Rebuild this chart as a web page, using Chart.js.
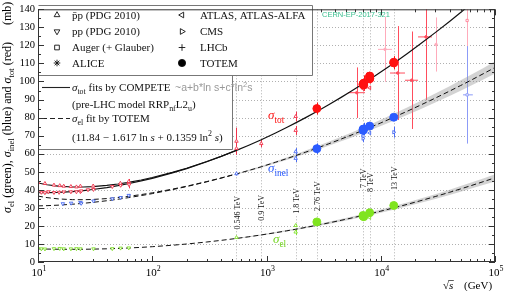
<!DOCTYPE html>
<html lang="en">
<head>
<meta charset="UTF-8" />
<script src="https://cdn.jsdelivr.net/npm/chart.js"></script>
<title>pp cross sections</title>
<style>
  html, body { margin: 0; padding: 0; background: #fff; }
  #box { width: 509px; height: 291px; }
</style>
</head>
<body>
<div id="box"><canvas id="grafico"></canvas></div>
<script>
// ---- fit curves (sqrt(s) in GeV, cross sections in mb) ----
const fitE = [10, 12, 15, 20, 25, 30, 40, 50, 60, 80, 100, 150, 200, 300, 400, 546, 700, 900, 1200, 1500,
  1800, 2200, 2760, 3500, 4500, 5500, 7000, 8000, 10000, 13000, 17000, 22000, 30000, 40000, 50000, 60000, 80000, 100000];
const fitTotPP = [38.37, 38.38, 38.56, 39.03, 39.58, 40.15, 41.25, 42.27, 43.22, 44.90, 46.36, 49.36, 51.76, 55.51, 58.43, 61.82, 64.70, 67.75, 71.50, 74.52,
  77.08, 79.99, 83.41, 87.12, 91.20, 94.58, 98.77, 101.15, 105.22, 110.17, 115.40, 120.60, 127.07, 133.28, 138.25, 142.39, 149.10, 154.44];
const fitTotPbarP = [43.79, 42.83, 42.04, 41.57, 41.57, 41.78, 42.44, 43.21, 43.98, 45.46, 46.80, 49.64, 51.97, 55.64, 58.52, 61.88];
const fitInelPP = [31.09, 31.22, 31.49, 32.00, 32.52, 33.02, 33.94, 34.76, 35.51, 36.79, 37.88, 40.08, 41.79, 44.43, 46.45, 48.77, 50.72, 52.75, 55.26, 57.26,
  58.94, 60.84, 63.07, 65.47, 68.10, 70.27, 72.95, 74.47, 77.05, 80.19, 83.48, 86.75, 90.80, 94.67, 97.76, 100.33, 104.48, 107.78];
const fitInelPbarP = [36.51, 35.67, 34.97, 34.54, 34.51, 34.65, 35.13, 35.70, 36.27, 37.35, 38.32, 40.36, 42.00, 44.56, 46.54, 48.83];
const fitEl = [7.28, 7.16, 7.07, 7.03, 7.06, 7.13, 7.31, 7.51, 7.71, 8.11, 8.48, 9.28, 9.97, 11.08, 11.98, 13.05, 13.98, 15.00, 16.24, 17.26,
  18.14, 19.15, 20.34, 21.65, 23.10, 24.31, 25.82, 26.68, 28.17, 29.98, 31.92, 33.85, 36.27, 38.61, 40.49, 42.06, 44.62, 46.66];
// half width of the grey uncertainty bands (last entries of fitE)
const bandInelHalf = [0.3, 0.4, 0.5, 0.6, 0.7, 0.8, 0.9, 1.0, 1.1, 1.25, 1.4, 1.5, 1.6, 1.75, 1.9, 2.1, 2.3, 2.5, 2.7, 2.9, 3.0, 3.2, 3.4];
const bandElHalf = [0.2, 0.25, 0.3, 0.35, 0.4, 0.45, 0.5, 0.55, 0.6, 0.7, 0.75, 0.8, 0.85, 0.9, 1.0, 1.1, 1.2, 1.3, 1.45, 1.55, 1.65, 1.8, 2.0];

// ---- measurements: [sqrt(s), sigma, error, (sqrt(s) low, sqrt(s) high)] ----
const pbarpTot = [[10.0, 44.0, 0.6], [11.5, 43.5, 0.6], [13.8, 42.6, 0.6], [15.5, 42.3, 0.5], [16.8, 42.0, 0.5], [19.4, 41.8, 0.5], [21.7, 41.6, 0.5],
  [23.5, 42.0, 0.7], [30.4, 42.1, 0.8], [52.6, 43.6, 0.9], [62.3, 44.6, 1.4], [546, 66.9, 7.5], [546, 62.9, 1.5], [900, 65.6, 2.0], [1800, 80.6, 2.7], [1800, 72.9, 2.5]];
const ppTot = [[10.7, 38.6, 0.5], [11.5, 38.4, 0.5], [12.3, 38.9, 0.5], [13.8, 38.5, 0.4], [15.3, 38.6, 0.4], [16.8, 38.8, 0.4], [19.4, 38.9, 0.4], [21.7, 38.9, 0.4],
  [23.5, 39.0, 0.4], [23.9, 39.4, 0.4], [27.4, 40.0, 0.6], [30.6, 40.2, 0.5], [44.7, 41.8, 0.6], [52.8, 42.5, 0.6], [62.3, 43.2, 0.8], [62.7, 42.8, 2.0]];
const ppInel = [[16.5, 32.3, 0.4], [19.5, 32.6, 0.4], [23.5, 33.0, 0.5], [23.9, 32.5, 0.5], [30.6, 33.8, 0.6], [44.7, 35.0, 0.6], [52.8, 35.7, 0.6], [62.3, 36.9, 0.8]];
const pbarpInel = [[546, 48.9, 1.0], [1800, 61.1, 2.0], [1800, 57.4, 2.0]];
const ppEl = [[10.0, 7.4, 0.3], [10.7, 7.3, 0.3], [11.5, 7.2, 0.3], [13.8, 7.4, 0.2], [15.5, 7.5, 0.2], [16.8, 7.3, 0.2], [19.4, 7.3, 0.2],
  [21.7, 7.4, 0.2], [23.5, 7.3, 0.2], [30.6, 7.3, 0.2], [44.7, 7.4, 0.3], [52.8, 7.7, 0.3], [62.3, 7.8, 0.3]];
const pbarpEl = [[546, 13.6, 0.6], [1800, 20.2, 0.9], [1800, 16.6, 1.6]];

const totemTot = [[2760, 85.0, 3.3], [7000, 98.3, 2.8], [7000, 98.6, 2.2], [7100, 99.1, 4.3], [7100, 98.0, 2.5], [8000, 101.7, 2.9],
  [8000, 101.5, 2.1], [8000, 102.9, 2.3], [8000, 103.0, 2.3], [13000, 110.6, 3.4], [13000, 110.3, 3.5]];
const totemInel = [[2760, 62.8, 2.9], [7000, 73.5, 1.6], [7100, 73.7, 3.4], [7000, 72.9, 1.5], [8000, 75.3, 1.7], [13000, 80.2, 1.8]];
const totemEl = [[2760, 22.2, 1.4], [7000, 25.4, 1.1], [7100, 25.1, 1.2], [7000, 25.8, 1.1], [8000, 27.3, 1.4], [13000, 31.3, 1.7]];

const atlasTot = [[7000, 96.0, 1.4], [8000, 96.5, 0.9]];
const atlasInel = [[7000, 69.8, 2.4], [8000, 71.5, 1.0]];
const atlasEl = [[8000, 24.6, 0.4]];
const cmsInel = [[7000, 68.4, 2.0], [13000, 71.9, 3.0]];
const aliceInel = [[7000, 73.2, 3.0]];

const cosmicTotRed = [[6170, 93.8, 14, 5160, 7280], [14060, 104.7, 26, 12050, 16300], [18660, 100.7, 27, 16300, 21200], [24900, 124.7, 35, 21200, 28100]];
const cosmicTotPink = [[10900, 117.8, 18, 9460, 12560], [30500, 120.5, 15]];
const augerTot = [[57000, 133.8, 40]];
const augerInel = [[57000, 92.6, 27, 52500, 64000]];

const energyMarks = [546, 900, 1800, 2760, 7000, 8000, 13000];
const energyNames = ['0.546 TeV', '0.9 TeV', '1.8 TeV', '2.76 TeV', '7 TeV', '8 TeV', '13 TeV'];

// ---- helpers ----
const SERIF = '"Liberation Serif", "DejaVu Serif", serif';
const SANS = '"Liberation Sans", Arial, sans-serif';
const RED = '#f2344c', PINK = '#ffabbb', CRRED = '#ff4d5d', BLUE = '#4b6cf2', LBLUE = '#8c9bf7', GREEN = '#82e02e';
const TRED = '#ff1111', TBLUE = '#2b5bff', TGREEN = '#80e41f';

const pts = a => a.map(([x, y, e, xl, xh]) => ({ x, y, e, xl, xh }));
const curve = (xs, ys) => ys.map((v, i) => ({ x: xs[i], y: v }));
const band = (ys, half, sign) => {
  const off = fitE.length - half.length;
  return half.map((h, i) => ({ x: fitE[off + i], y: ys[off + i] + sign * h }));
};

function pointSet(data, opt) {
  return Object.assign({
    type: 'scatter', data: pts(data), pointRadius: 2, pointBorderWidth: 0.9,
    pointHoverRadius: 0, backgroundColor: '#fff', order: 1
  }, opt);
}
function lineSet(data, opt) {
  return Object.assign({
    type: 'line', data, pointRadius: 0, borderColor: '#111', borderWidth: 1,
    fill: false, tension: 0, order: 2
  }, opt);
}

const datasets = [
  // TOTEM on top
  pointSet(totemTot, { pointStyle: 'circle', pointRadius: 4, backgroundColor: TRED, borderColor: TRED, errColor: TRED, order: 0 }),
  pointSet(totemInel, { pointStyle: 'circle', pointRadius: 4, backgroundColor: TBLUE, borderColor: TBLUE, errColor: TBLUE, order: 0 }),
  pointSet(totemEl, { pointStyle: 'circle', pointRadius: 4, backgroundColor: TGREEN, borderColor: TGREEN, errColor: TGREEN, order: 0 }),
  // other LHC experiments
  pointSet(atlasTot, { pointStyle: 'triangle', pointRotation: -90, borderColor: RED, errColor: RED }),
  pointSet(atlasInel, { pointStyle: 'triangle', pointRotation: -90, borderColor: BLUE, errColor: BLUE }),
  pointSet(atlasEl, { pointStyle: 'triangle', pointRotation: -90, borderColor: GREEN, errColor: GREEN }),
  pointSet(cmsInel, { pointStyle: 'triangle', pointRotation: 90, borderColor: BLUE, errColor: BLUE }),
  pointSet(aliceInel, { pointStyle: 'star', pointRadius: 2.5, borderColor: BLUE, errColor: BLUE }),
  // PDG
  pointSet(pbarpTot, { pointStyle: 'triangle', borderColor: RED, errColor: RED }),
  pointSet(ppTot, { pointStyle: 'triangle', pointRotation: 180, borderColor: RED, errColor: RED }),
  pointSet(ppInel, { pointStyle: 'triangle', pointRotation: 180, borderColor: BLUE, errColor: BLUE }),
  pointSet(pbarpInel, { pointStyle: 'triangle', borderColor: BLUE, errColor: BLUE }),
  pointSet(ppEl, { pointStyle: 'triangle', pointRotation: 180, borderColor: GREEN, errColor: GREEN }),
  pointSet(pbarpEl, { pointStyle: 'triangle', borderColor: GREEN, errColor: GREEN }),
  // cosmic rays / Auger
  pointSet(cosmicTotRed, { pointStyle: 'circle', pointRadius: 1.3, borderColor: CRRED, backgroundColor: CRRED, errColor: CRRED }),
  pointSet(cosmicTotPink, { pointStyle: 'circle', pointRadius: 1.3, borderColor: PINK, backgroundColor: PINK, errColor: PINK }),
  pointSet(augerTot, { pointStyle: 'rect', pointRadius: 1.6, borderColor: '#ff7f95', errColor: PINK }),
  pointSet(augerInel, { pointStyle: 'rect', pointRadius: 1.6, borderColor: LBLUE, errColor: LBLUE }),
  // curves
  lineSet(curve(fitE, fitTotPP), { borderWidth: 1.2 }),
  lineSet(curve(fitE, fitTotPbarP), { borderWidth: 1.1 }),
  lineSet(curve(fitE, fitInelPP), { borderDash: [5, 3] }),
  lineSet(curve(fitE, fitInelPbarP), { borderDash: [5, 3] }),
  lineSet(curve(fitE, fitEl), { borderDash: [5, 3] }),
  // grey bands
  lineSet(band(fitInelPP, bandInelHalf, 1), { borderWidth: 0, fill: '+1', backgroundColor: 'rgba(150,150,150,0.42)', order: 3 }),
  lineSet(band(fitInelPP, bandInelHalf, -1), { borderWidth: 0, order: 3 }),
  lineSet(band(fitEl, bandElHalf, 1), { borderWidth: 0, fill: '+1', backgroundColor: 'rgba(150,150,150,0.42)', order: 3 }),
  lineSet(band(fitEl, bandElHalf, -1), { borderWidth: 0, order: 3 })
];

// text with italic / sub / sup pieces, baseline at y
function rich(ctx, parts, x, y, size) {
  for (const [t, k] of parts) {
    let fs = size, dy = 0, st = '';
    if (k === 'sub') { fs = size * 0.72; dy = size * 0.28; }
    if (k === 'sup') { fs = size * 0.72; dy = -size * 0.42; }
    if (k === 'i') st = 'italic ';
    ctx.font = st + fs + 'px ' + SERIF;
    ctx.fillText(t, x, y + dy);
    x += ctx.measureText(t).width;
  }
  return x;
}
function richWidth(ctx, parts, size) {
  let w = 0;
  for (const [t, k] of parts) {
    const fs = (k === 'sub' || k === 'sup') ? size * 0.72 : size;
    ctx.font = (k === 'i' ? 'italic ' : '') + fs + 'px ' + SERIF;
    w += ctx.measureText(t).width;
  }
  return w;
}
function mark(ctx, style, rot, x, y, r) {
  if (Chart.helpers && Chart.helpers.drawPoint) {
    Chart.helpers.drawPoint(ctx, { pointStyle: style, rotation: rot, radius: r, borderWidth: 0.9 }, x, y);
  } else {
    ctx.beginPath(); ctx.arc(x, y, r, 0, 2 * Math.PI); ctx.fill(); ctx.stroke();
  }
}

// grid, energy lines and legend boxes: under the data
const decor = {
  id: 'decor',
  beforeDatasetsDraw(chart) {
    const { ctx, chartArea: a, scales: { x, y } } = chart;
    ctx.save();
    ctx.strokeStyle = '#9c9c9c'; ctx.lineWidth = 0.8; ctx.setLineDash([1, 2]);
    for (let v = 10; v < 140; v += 10) {
      const py = Math.round(y.getPixelForValue(v)) + 0.5;
      ctx.beginPath(); ctx.moveTo(a.left, py); ctx.lineTo(a.right, py); ctx.stroke();
    }
    for (const e of energyMarks) {
      const px = Math.round(x.getPixelForValue(e)) + 0.5;
      ctx.beginPath(); ctx.moveTo(px, a.top); ctx.lineTo(px, a.bottom); ctx.stroke();
    }
    ctx.setLineDash([]);

    // rotated energy labels
    const labelMb = [27.3, 30, 33.8, 36.5, 46.4, 44.2, 46.4];
    ctx.font = '8px ' + SERIF; ctx.textAlign = 'center'; ctx.textBaseline = 'middle';
    energyNames.forEach((t, i) => {
      const px = x.getPixelForValue(energyMarks[i]), py = y.getPixelForValue(labelMb[i]);
      ctx.save(); ctx.translate(px + 0.5, py); ctx.rotate(-Math.PI / 2);
      const w = ctx.measureText(t).width;
      ctx.fillStyle = '#fff'; ctx.fillRect(-w / 2 - 1, -3.5, w + 2, 7);
      ctx.fillStyle = '#111'; ctx.fillText(t, 0, 0.5);
      ctx.restore();
    });

    // legend boxes
    ctx.fillStyle = '#fff';
    ctx.fillRect(38, 5, 274, 70); ctx.fillRect(38, 75, 194, 74);
    ctx.strokeStyle = '#777'; ctx.lineWidth = 1;
    ctx.beginPath();
    ctx.moveTo(38.5, 5.5); ctx.lineTo(312.5, 5.5); ctx.lineTo(312.5, 75.5); ctx.lineTo(38.5, 75.5);
    ctx.moveTo(232.5, 75.5); ctx.lineTo(232.5, 149.5); ctx.lineTo(38.5, 149.5);
    ctx.stroke();

    ctx.textAlign = 'left'; ctx.textBaseline = 'alphabetic';
    const rows = [15, 31.5, 47.5, 63];
    const col1 = [['triangle', 0, 'p\u0304p (PDG 2010)'], ['triangle', 180, 'pp (PDG 2010)'], ['rect', 0, 'Auger (+ Glauber)'], ['star', 0, 'ALICE']];
    const col2 = [['triangle', -90, 'ATLAS, ATLAS-ALFA'], ['triangle', 90, 'CMS'], ['crossRot', 45, 'LHCb'], ['circle', 0, 'TOTEM']];
    ctx.strokeStyle = '#111'; ctx.lineWidth = 0.9;
    rows.forEach((ry, i) => {
      ctx.fillStyle = '#fff';
      mark(ctx, col1[i][0], col1[i][1], 57, ry, 3.3);
      ctx.fillStyle = i === 3 ? '#000' : '#fff';
      mark(ctx, col2[i][0], col2[i][1], 182, ry, i === 3 ? 3.6 : 3.3);
      ctx.fillStyle = '#111';
      ctx.font = '11px ' + SERIF;
      ctx.fillText(col1[i][2], 72, ry + 3.8);
      ctx.fillText(col2[i][2], 200, ry + 3.8);
    });

    // fit legend
    ctx.strokeStyle = '#222'; ctx.lineWidth = 1.1;
    ctx.beginPath(); ctx.moveTo(42, 87.5); ctx.lineTo(70, 87.5); ctx.stroke();
    ctx.setLineDash([5, 3]); ctx.lineWidth = 1;
    ctx.beginPath(); ctx.moveTo(42, 118.5); ctx.lineTo(70, 118.5); ctx.stroke();
    ctx.setLineDash([]);
    ctx.fillStyle = '#111';
    rich(ctx, [['\u03c3', 'i'], ['tot', 'sub'], [' fits by COMPETE', '']], 72, 91, 11);
    rich(ctx, [['(pre-LHC model RRP', ''], ['nf', 'sub'], ['L2', ''], ['u', 'sub'], [')', '']], 72, 107.5, 11);
    rich(ctx, [['\u03c3', 'i'], ['el', 'sub'], [' fit by TOTEM', '']], 72, 122, 11);
    rich(ctx, [['(11.84 \u2212 1.617 ln ', ''], ['s', 'i'], [' + 0.1359 ln', ''], ['2', 'sup'], [' ', ''], ['s', 'i'], [')', '']], 72, 140.5, 11);
    ctx.restore();
  }
};

// error bars, also under the markers
const errorBars = {
  id: 'errorBars',
  beforeDatasetsDraw(chart) {
    const { ctx, chartArea: a, scales: { x, y } } = chart;
    ctx.save();
    ctx.beginPath(); ctx.rect(a.left, a.top, a.right - a.left, a.bottom - a.top); ctx.clip();
    ctx.lineWidth = 1;
    chart.data.datasets.forEach(ds => {
      if (!ds.errColor) return;
      ctx.strokeStyle = ds.errColor;
      ds.data.forEach(p => {
        const px = Math.round(x.getPixelForValue(p.x)) + 0.5, py = y.getPixelForValue(p.y);
        ctx.beginPath();
        if (p.e) { ctx.moveTo(px, y.getPixelForValue(p.y - p.e)); ctx.lineTo(px, y.getPixelForValue(p.y + p.e)); }
        if (p.xl) { ctx.moveTo(x.getPixelForValue(p.xl), py); ctx.lineTo(x.getPixelForValue(p.xh), py); }
        ctx.stroke();
      });
    });
    ctx.restore();
  }
};

// frame, ticks, axis labels and free texts
const overlay = {
  id: 'overlay',
  afterDraw(chart) {
    const { ctx, chartArea: a, scales: { x, y } } = chart;
    ctx.save();
    ctx.strokeStyle = '#333'; ctx.lineWidth = 1;
    ctx.strokeRect(a.left + 0.5, a.top + 0.5, a.right - a.left - 1, a.bottom - a.top - 1);
    ctx.beginPath();
    for (let k = 1; k <= 5; k++) {
      for (let m = 1; m <= 9; m++) {
        const v = m * 10 ** k;
        if (v > 100000) break;
        const px = Math.round(x.getPixelForValue(v)) + 0.5, len = m === 1 ? 6 : 3;
        ctx.moveTo(px, a.bottom); ctx.lineTo(px, a.bottom - len);
        if (px > 312) { ctx.moveTo(px, a.top); ctx.lineTo(px, a.top + len); }
      }
    }
    for (let v = 0; v <= 140; v += 5) {
      const py = Math.round(y.getPixelForValue(v)) + 0.5, len = v % 10 === 0 ? 6 : 3;
      ctx.moveTo(a.left, py); ctx.lineTo(a.left + len, py);
      ctx.moveTo(a.right, py); ctx.lineTo(a.right - len, py);
    }
    ctx.stroke();

    // x tick labels 10^k
    ctx.fillStyle = '#000'; ctx.textAlign = 'left'; ctx.textBaseline = 'alphabetic';
    for (let k = 1; k <= 5; k++) {
      const parts = [['10', ''], [String(k), 'sup']];
      const w = richWidth(ctx, parts, 11);
      rich(ctx, parts, x.getPixelForValue(10 ** k) - w / 2 + 1, 276, 11);
    }
    // x title
    ctx.font = '11px ' + SERIF;
    ctx.fillText('\u221a', 443, 289);
    const rx = 443 + ctx.measureText('\u221a').width;
    ctx.font = 'italic 11px ' + SERIF;
    ctx.fillText('s', rx, 289);
    const sw = ctx.measureText('s').width;
    ctx.beginPath(); ctx.moveTo(rx - 0.5, 280.5); ctx.lineTo(rx + sw + 0.5, 280.5); ctx.lineWidth = 0.8; ctx.stroke();
    ctx.font = '11px ' + SERIF;
    ctx.fillText('(GeV)', 464, 289);

    // y title (rotated)
    ctx.save();
    ctx.translate(11, 213); ctx.rotate(-Math.PI / 2);
    rich(ctx, [['\u03c3', 'i'], ['el', 'sub'], [' (green), ', ''], ['\u03c3', 'i'], ['inel', 'sub'], [' (blue) and ', ''],
      ['\u03c3', 'i'], ['tot', 'sub'], [' (red)', '']], 0, 0, 12);
    ctx.font = '12px ' + SERIF;
    ctx.fillText('(mb)', 188, 0);
    ctx.restore();

    // curve names
    ctx.fillStyle = TRED;
    rich(ctx, [['\u03c3', 'i'], ['tot', 'sub']], 268, 119, 13);
    ctx.fillStyle = TBLUE;
    rich(ctx, [['\u03c3', 'i'], ['inel', 'sub']], 268, 172, 13);
    ctx.fillStyle = '#6fd41a';
    rich(ctx, [['\u03c3', 'i'], ['el', 'sub']], 273, 243, 13);

    // fit formula and report number
    ctx.fillStyle = '#999';
    ctx.font = '10.5px ' + SANS;
    let tx = 175;
    ctx.fillText('~a+b*ln s+c*ln', tx, 91); tx += ctx.measureText('~a+b*ln s+c*ln').width;
    ctx.font = '7.5px ' + SANS; ctx.fillText('2', tx, 86.5); tx += ctx.measureText('2').width;
    ctx.font = '10.5px ' + SANS; ctx.fillText('s', tx, 91);
    ctx.fillStyle = '#3cc091';
    ctx.font = '7.5px ' + SANS;
    ctx.fillText('CERN-EP-2017-321', 322, 16.5);
    ctx.restore();
  }
};

new Chart(document.getElementById('grafico'), {
  type: 'scatter',
  data: { datasets },
  options: {
    responsive: true,
    maintainAspectRatio: false,
    animation: false,
    devicePixelRatio: 1,
    events: [],
    layout: { padding: { top: 5, right: 14, left: 0, bottom: 0 } },
    plugins: { legend: { display: false }, tooltip: { enabled: false } },
    scales: {
      x: {
        type: 'logarithmic', min: 10, max: 100000,
        ticks: { display: false }, grid: { display: false, drawTicks: false }, border: { display: false },
        afterFit(s) { s.height = 29; }
      },
      y: {
        type: 'linear', min: 0, max: 140,
        ticks: { stepSize: 10, color: '#000', padding: 3, font: { family: SERIF, size: 10.5 } },
        grid: { display: false, drawTicks: false }, border: { display: false },
        afterFit(s) { s.width = 38; }
      }
    }
  },
  plugins: [decor, errorBars, overlay]
});
</script>
</body>
</html>
